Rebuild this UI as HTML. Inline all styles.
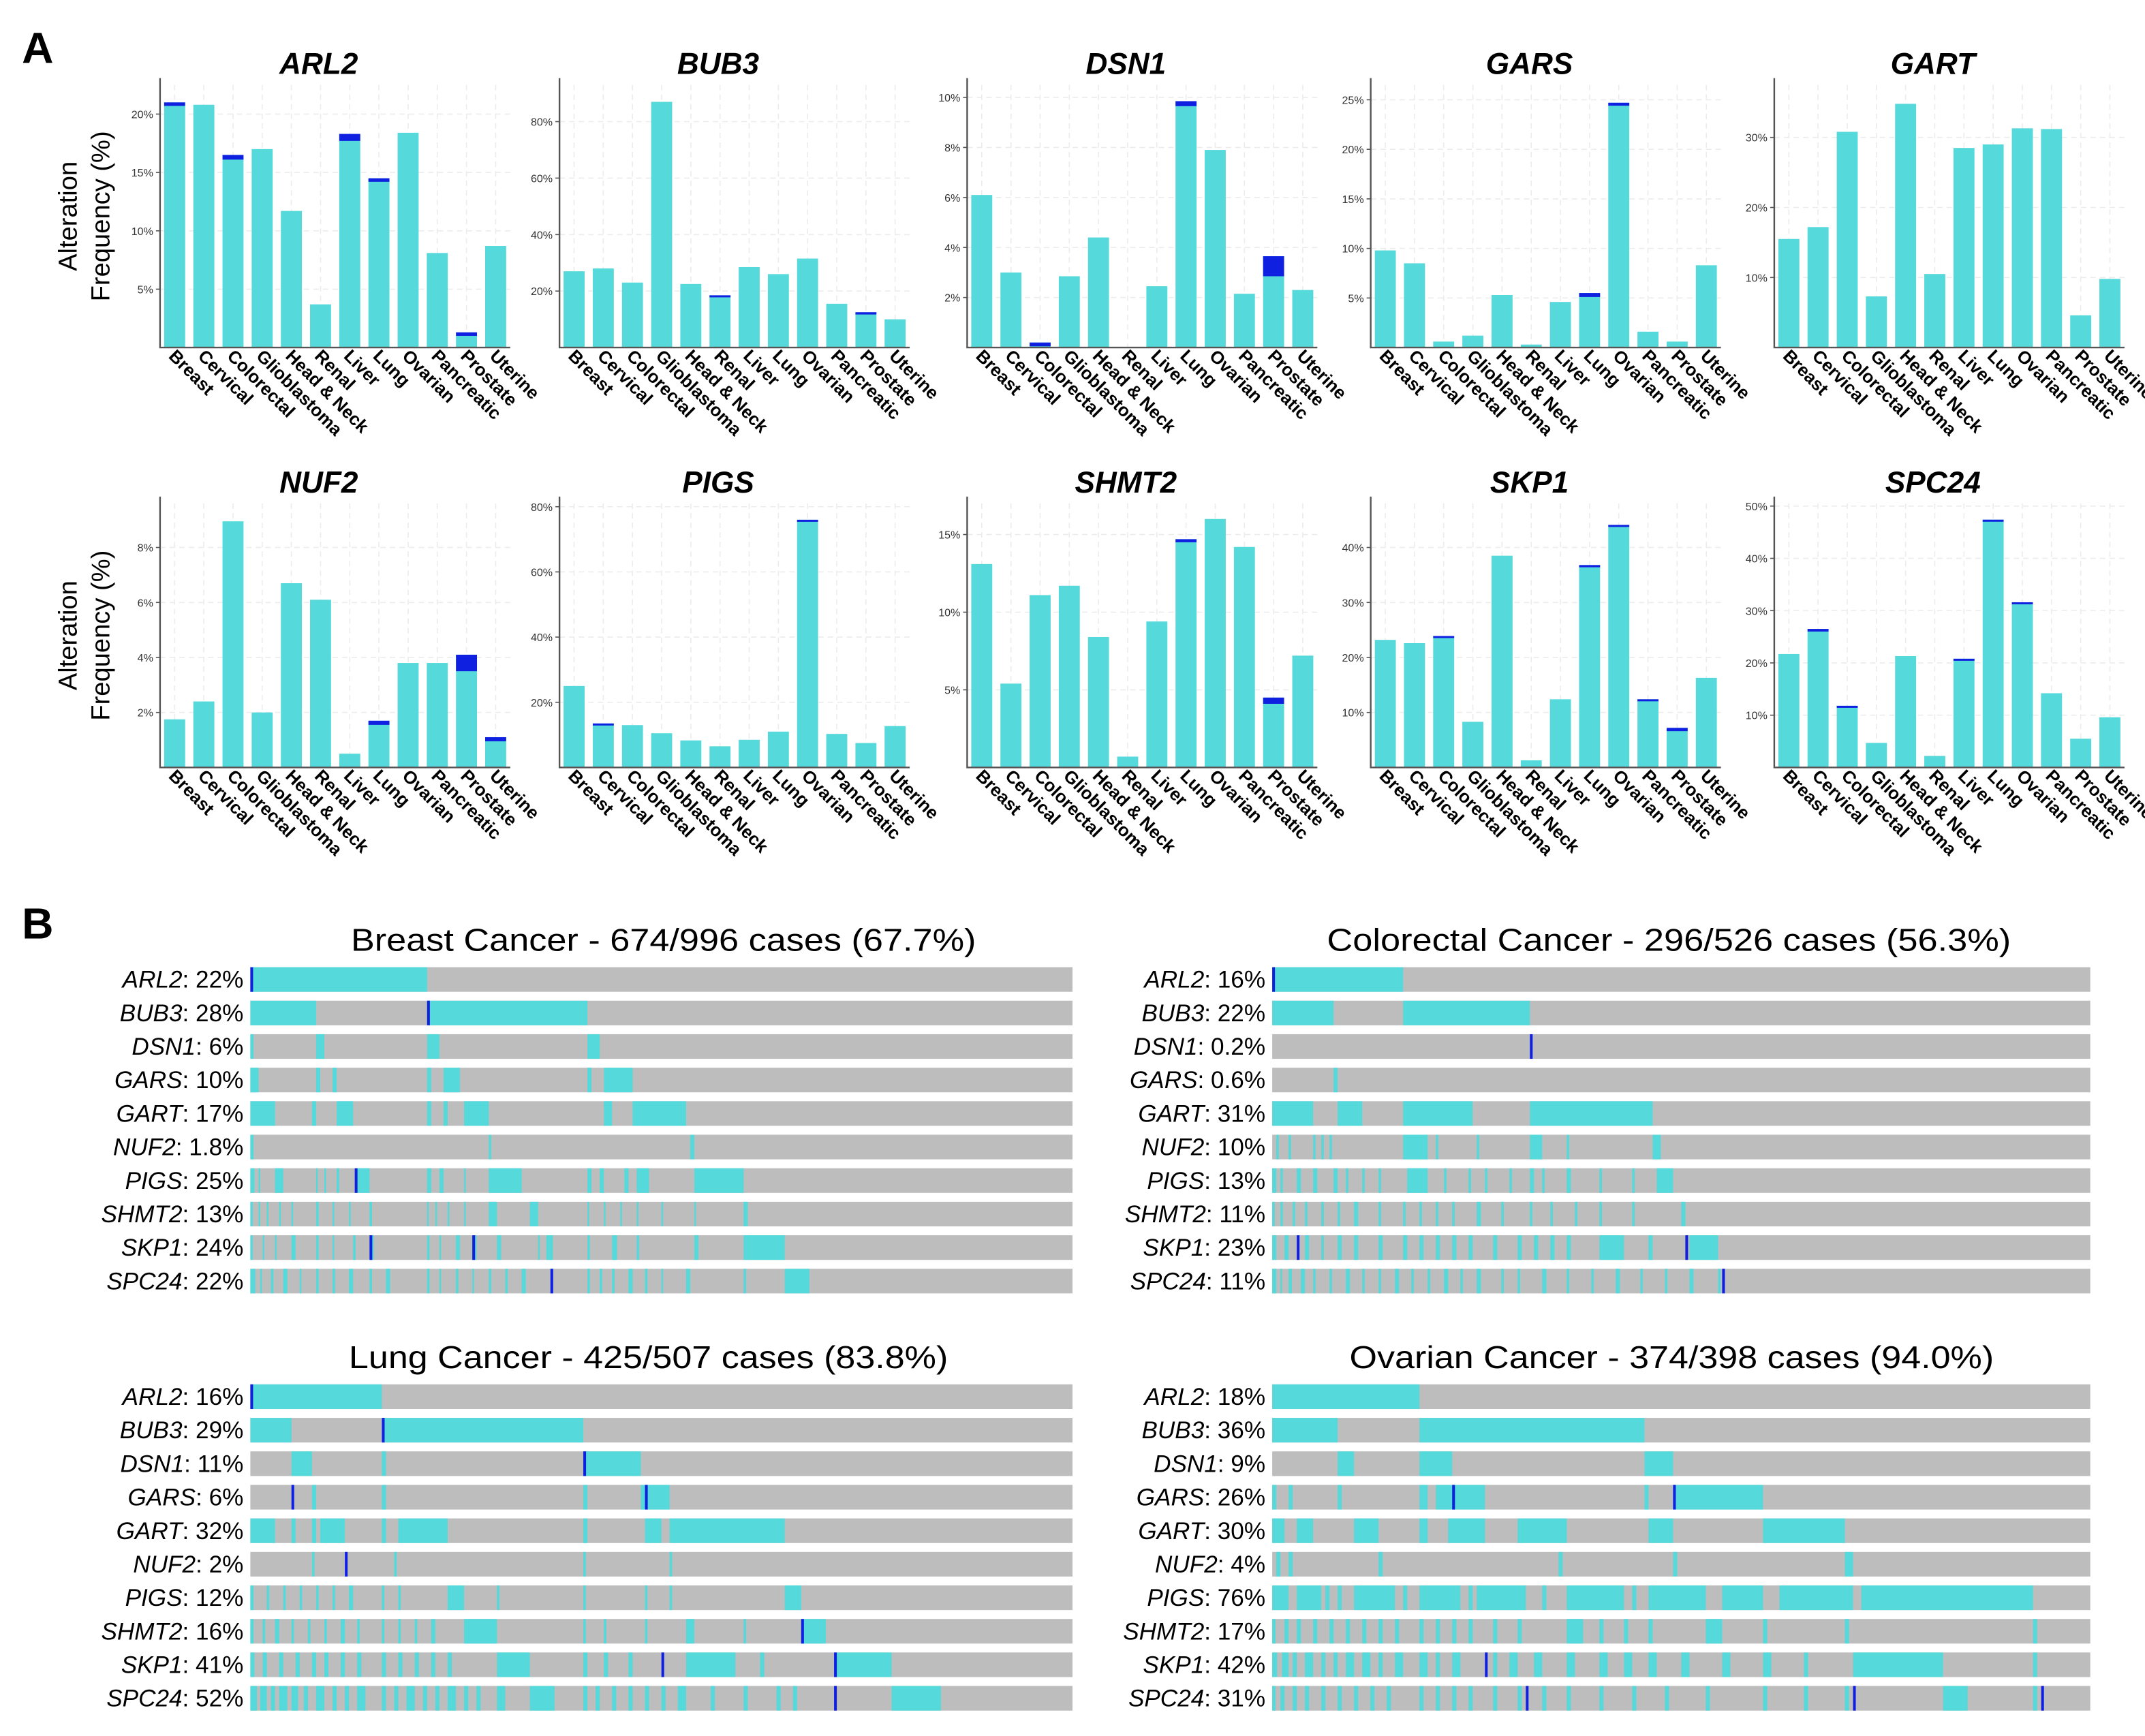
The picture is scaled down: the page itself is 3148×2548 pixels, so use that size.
<!DOCTYPE html>
<html><head><meta charset="utf-8"><style>
html,body{margin:0;padding:0;background:#fff}
svg{display:block;font-family:"Liberation Sans",sans-serif}
</style></head><body>
<svg id="fig" width="3148" height="2548" viewBox="0 0 1568 1269" xmlns="http://www.w3.org/2000/svg">
<rect width="1568" height="1269" fill="#fff"/>
<text x="16" y="46" font-size="32" font-weight="bold">A</text>
<text x="16" y="686" font-size="32" font-weight="bold">B</text>
<g id="bars"></g>
<g id="onco"></g>
</svg>
<script>
const categories=["Breast","Cervical","Colorectal","Glioblastoma","Head & Neck","Renal","Liver","Lung","Ovarian","Pancreatic","Prostate","Uterine"];
const genes=["ARL2","BUB3","DSN1","GARS","GART","NUF2","PIGS","SHMT2","SKP1","SPC24"];
const totARL2=[21,20.8,16.5,17,11.7,3.7,18.3,14.5,18.4,8.1,1.3,8.7];
const blueARL2=[0.3,0,0.4,0,0,0,0.6,0.3,0,0,0.3,0];
const totBUB3=[27,28,23,87,22.5,18.5,28.5,26,31.5,15.5,12.5,10];
const blueBUB3=[0,0,0,0,0,0.5,0,0,0,0,0.8,0];
const totDSN1=[6.1,3.0,0.2,2.85,4.4,0,2.45,9.85,7.9,2.15,3.65,2.3];
const blueDSN1=[0,0,0.15,0,0,0,0,0.2,0,0,0.8,0];
const totGARS=[9.8,8.5,0.6,1.2,5.3,0.3,4.6,5.5,24.7,1.6,0.6,8.3];
const blueGARS=[0,0,0,0,0,0,0,0.4,0.3,0,0,0];
const totGART=[15.5,17.2,30.8,7.3,34.8,10.5,28.5,29,31.3,31.2,4.6,9.8];
const blueGART=[0,0,0,0,0,0,0,0,0,0,0,0];
const totNUF2=[1.75,2.4,8.95,2.0,6.7,6.1,0.5,1.7,3.8,3.8,4.1,1.1];
const blueNUF2=[0,0,0,0,0,0,0,0.15,0,0,0.6,0.15];
const totPIGS=[25,13.5,13,10.5,8.3,6.5,8.5,11,76,10.3,7.5,12.7];
const bluePIGS=[0,0.5,0,0,0,0,0,0,0.3,0,0,0];
const totSHMT2=[13.1,5.4,11.1,11.7,8.4,0.7,9.4,14.7,16,14.2,4.5,7.2];
const blueSHMT2=[0,0,0,0,0,0,0,0.2,0,0,0.4,0];
const totSKP1=[23.2,22.6,23.9,8.3,38.5,1.3,12.4,36.8,44.1,12.4,7.2,16.3];
const blueSKP1=[0,0,0.2,0,0,0,0,0.4,0.3,0.3,0.6,0];
const totSPC24=[21.7,26.5,11.8,4.7,21.3,2.2,20.8,47.4,31.6,14.2,5.5,9.6];
const blueSPC24=[0,0.5,0.3,0,0,0,0.2,0.3,0.3,0,0,0];
const ticksARL2=[5,10,15,20], ticksBUB3=[20,40,60,80], ticksDSN1=[2,4,6,8,10], ticksGARS=[5,10,15,20,25], ticksGART=[10,20,30];
const ticksNUF2=[2,4,6,8], ticksPIGS=[20,40,60,80], ticksSHMT2=[5,10,15], ticksSKP1=[10,20,30,40], ticksSPC24=[10,20,30,40,50];
const ymaxes=[22.5,93,10.5,26.5,37.5,9.6,81,17,48,50.5];

const NS="http://www.w3.org/2000/svg";
function mk(tag,attrs,parent){const e=document.createElementNS(NS,tag);for(const k in attrs)e.setAttribute(k,attrs[k]);parent.appendChild(e);return e;}
const tots={ARL2:totARL2,BUB3:totBUB3,DSN1:totDSN1,GARS:totGARS,GART:totGART,NUF2:totNUF2,PIGS:totPIGS,SHMT2:totSHMT2,SKP1:totSKP1,SPC24:totSPC24};
const blues={ARL2:blueARL2,BUB3:blueBUB3,DSN1:blueDSN1,GARS:blueGARS,GART:blueGART,NUF2:blueNUF2,PIGS:bluePIGS,SHMT2:blueSHMT2,SKP1:blueSKP1,SPC24:blueSPC24};
const ticks={ARL2:ticksARL2,BUB3:ticksBUB3,DSN1:ticksDSN1,GARS:ticksGARS,GART:ticksGART,NUF2:ticksNUF2,PIGS:ticksPIGS,SHMT2:ticksSHMT2,SKP1:ticksSKP1,SPC24:ticksSPC24};
const axX=[117,409,707,1002,1297];
const barsG=document.getElementById('bars');
genes.forEach((g,gi)=>{
  const col=gi%5,row=Math.floor(gi/5);
  const x0=axX[col],yb=row?561:254,yt=row?368:62,w=256;
  const ymax=ymaxes[gi];
  const Y=v=>yb-(v/ymax)*(yb-yt);
  const band=w/12;const X=i=>x0+band*(i+0.5);
  const grp=mk('g',{},barsG);
  
  
  const t=mk('text',{x:x0+w/2-12,y:yt-8,'text-anchor':'middle','font-size':22,'font-weight':'bold','font-style':'italic'},grp);
  t.textContent=g;
  
  
  for(let i=0;i<12;i++){const l=mk('line',{x1:X(i),x2:X(i),y1:yt,y2:yb,stroke:'#ececec','stroke-dasharray':'4 3','stroke-width':0.8},grp);
    }
  ticks[g].forEach(v=>{
    const l=mk('line',{x1:x0,x2:x0+w,y1:Y(v),y2:Y(v),stroke:'#ececec','stroke-dasharray':'4 3','stroke-width':0.8},grp);
    
    const tk=mk('line',{x1:x0-3,x2:x0,y1:Y(v),y2:Y(v),stroke:'#555','stroke-width':0.8},grp);
    
    const tl=mk('text',{x:x0-5,y:Y(v)+3,'text-anchor':'end','font-size':8,fill:'#333'},grp);
    tl.textContent=v+'%';
    
  });
  tots[g].forEach((v,i)=>{
    const bw=band*0.72;
    const r=mk('rect',{x:X(i)-bw/2,y:Y(v),width:bw,height:yb-Y(v),fill:'#55d9da'},grp);
    
    
    const b=blues[g][i];
    if(b>0){const br=mk('rect',{x:X(i)-bw/2,y:Y(v),width:bw,height:Math.max(1.5,Y(v-b)-Y(v)),fill:'#1020e0'},grp);
      }
    const xl=mk('text',{x:0,y:0,'font-size':13,'font-weight':'bold',fill:'#000',transform:`translate(${X(i)-5},${yb+7}) rotate(45)`},grp);
    xl.textContent=categories[i];
    
  });
  const ax=mk('path',{d:`M${x0} ${yt-5} V${yb} H${x0+w}`,fill:'none',stroke:'#555','stroke-width':1.2},grp);
  
  if(col===0){
    const cy=(yt+yb)/2;
    const yl=mk('text',{'text-anchor':'middle','font-size':19,transform:`translate(56,${cy}) rotate(-90)`},grp);
    yl.textContent='Alteration';
    
    const yl2=mk('text',{'text-anchor':'middle','font-size':19,transform:`translate(80,${cy}) rotate(-90)`},grp);
    yl2.textContent='Frequency (%)';
    
  }
});

const oncoTitles=["Breast Cancer - 674/996 cases (67.7%)","Colorectal Cancer - 296/526 cases (56.3%)","Lung Cancer - 425/507 cases (83.8%)","Ovarian Cancer - 374/398 cases (94.0%)"];
const pctBreast=["22%","28%","6%","10%","17%","1.8%","25%","13%","24%","22%"];
const pctColorectal=["16%","22%","0.2%","0.6%","31%","10%","13%","11%","23%","11%"];
const pctLung=["16%","29%","11%","6%","32%","2%","12%","16%","41%","52%"];
const pctOvarian=["18%","36%","9%","26%","30%","4%","76%","17%","42%","31%"];
const segBreast=[
 [[0,.215]],
 [[0,.08],[.215,.41]],
 [[0,.004],[.08,.09],[.215,.23],[.41,.425]],
 [[0,.01],[.08,.085],[.1,.105],[.215,.22],[.235,.255],[.41,.415],[.43,.465]],
 [[0,.03],[.075,.08],[.105,.125],[.215,.22],[.235,.24],[.26,.29],[.43,.44],[.465,.53]],
 [[0,.004],[.29,.293],[.535,.54]],
 [[0,.005],[.01,.012],[.03,.04],[.08,.082],[.09,.092],[.105,.108],[.13,.145],[.215,.22],[.23,.235],[.26,.262],[.29,.33],[.41,.415],[.425,.43],[.455,.46],[.47,.485],[.54,.6]],
 [[0,.003],[.01,.012],[.02,.022],[.035,.037],[.05,.052],[.08,.083],[.1,.102],[.12,.122],[.145,.148],[.215,.217],[.225,.227],[.24,.242],[.26,.262],[.29,.3],[.34,.35],[.41,.412],[.43,.432],[.45,.452],[.47,.472],[.5,.502],[.54,.542],[.6,.605]],
 [[0,.003],[.015,.017],[.03,.032],[.05,.055],[.08,.083],[.1,.102],[.125,.128],[.145,.15],[.215,.218],[.23,.232],[.25,.255],[.27,.275],[.3,.305],[.35,.352],[.36,.368],[.41,.413],[.44,.446],[.47,.473],[.54,.545],[.6,.65]],
 [[0,.006],[.012,.014],[.025,.028],[.04,.045],[.06,.062],[.08,.083],[.1,.103],[.12,.125],[.145,.148],[.165,.17],[.215,.218],[.23,.232],[.25,.253],[.27,.272],[.29,.293],[.31,.313],[.33,.335],[.365,.368],[.41,.413],[.425,.428],[.44,.443],[.46,.465],[.48,.483],[.5,.502],[.53,.535],[.6,.603],[.65,.68]]
];
const blueBreast=[[0],[.215],[],[],[],[],[.127],[],[.145,.27],[.365]];
const segColorectal=[
 [[0,.16]],
 [[0,.075],[.16,.315]],
 [],
 [[.075,.08]],
 [[0,.05],[.08,.11],[.16,.245],[.315,.465]],
 [[.005,.008],[.02,.023],[.05,.053],[.06,.063],[.07,.073],[.16,.19],[.2,.203],[.25,.253],[.315,.33],[.36,.363],[.465,.475]],
 [[0,.005],[.01,.013],[.03,.035],[.05,.055],[.075,.08],[.09,.093],[.11,.113],[.13,.133],[.165,.19],[.21,.213],[.24,.243],[.26,.263],[.29,.293],[.315,.32],[.33,.333],[.36,.365],[.4,.403],[.44,.443],[.47,.49]],
 [[0,.003],[.01,.013],[.025,.028],[.04,.043],[.06,.063],[.08,.083],[.1,.105],[.13,.133],[.16,.163],[.18,.183],[.2,.203],[.22,.223],[.25,.255],[.28,.283],[.315,.318],[.34,.343],[.37,.373],[.4,.403],[.44,.443],[.5,.505]],
 [[0,.005],[.015,.02],[.04,.045],[.06,.063],[.08,.085],[.1,.105],[.13,.135],[.16,.165],[.18,.185],[.2,.205],[.22,.225],[.24,.245],[.27,.275],[.3,.305],[.32,.325],[.34,.345],[.36,.365],[.4,.43],[.46,.465],[.51,.545]],
 [[0,.005],[.01,.012],[.02,.024],[.035,.04],[.05,.053],[.07,.073],[.09,.095],[.11,.113],[.13,.133],[.15,.155],[.17,.173],[.19,.193],[.21,.215],[.23,.233],[.25,.255],[.28,.283],[.3,.303],[.33,.335],[.36,.363],[.39,.393],[.42,.425],[.45,.453],[.48,.483],[.51,.515],[.545,.548]]
];
const blueColorectal=[[0],[],[.315],[],[],[],[],[],[.03,.505],[.55]];
const segLung=[
 [[0,.16]],
 [[0,.05],[.16,.405]],
 [[.05,.075],[.16,.165],[.405,.475]],
 [[.075,.08],[.16,.165],[.405,.41],[.475,.48],[.48,.51]],
 [[0,.03],[.05,.055],[.075,.08],[.085,.115],[.16,.165],[.18,.24],[.405,.41],[.48,.5],[.51,.65]],
 [[.075,.078],[.175,.178],[.405,.408],[.51,.513]],
 [[0,.004],[.02,.023],[.04,.043],[.06,.063],[.08,.083],[.1,.103],[.12,.125],[.16,.163],[.18,.183],[.24,.26],[.3,.303],[.405,.408],[.48,.483],[.51,.513],[.65,.67]],
 [[0,.004],[.015,.018],[.03,.035],[.05,.053],[.07,.073],[.09,.093],[.11,.115],[.13,.133],[.16,.163],[.18,.183],[.2,.203],[.22,.225],[.26,.3],[.405,.408],[.43,.433],[.48,.483],[.53,.54],[.6,.603],[.67,.7]],
 [[0,.005],[.015,.02],[.035,.04],[.055,.06],[.075,.08],[.09,.095],[.11,.115],[.13,.135],[.16,.165],[.18,.185],[.2,.205],[.22,.225],[.24,.245],[.3,.34],[.405,.41],[.43,.435],[.46,.465],[.53,.59],[.62,.625],[.71,.78]],
 [[0,.008],[.012,.02],[.025,.03],[.035,.045],[.05,.058],[.065,.07],[.08,.09],[.1,.105],[.115,.12],[.13,.14],[.16,.165],[.175,.18],[.19,.2],[.21,.215],[.225,.23],[.24,.25],[.26,.265],[.275,.28],[.3,.31],[.34,.37],[.405,.41],[.42,.425],[.44,.445],[.46,.465],[.48,.485],[.5,.505],[.52,.53],[.56,.565],[.6,.605],[.64,.645],[.66,.665],[.78,.84]]
];
const blueLung=[[0],[.16],[.405],[.05,.48],[],[.115],[],[.67],[.5,.71],[.71]];
const segOvarian=[
 [[0,.18]],
 [[0,.08],[.18,.455]],
 [[.08,.1],[.18,.22],[.455,.49]],
 [[0,.005],[.02,.025],[.08,.085],[.18,.19],[.2,.26],[.455,.46],[.49,.6]],
 [[0,.015],[.03,.05],[.1,.13],[.18,.19],[.215,.26],[.3,.36],[.46,.49],[.6,.7]],
 [[.005,.01],[.02,.025],[.13,.135],[.35,.355],[.49,.495],[.7,.71]],
 [[0,.02],[.03,.06],[.065,.07],[.08,.085],[.1,.15],[.16,.165],[.18,.23],[.24,.245],[.25,.31],[.33,.335],[.36,.43],[.44,.445],[.46,.53],[.55,.6],[.62,.71],[.72,.93]],
 [[0,.004],[.015,.02],[.03,.035],[.05,.055],[.07,.075],[.09,.095],[.11,.115],[.13,.135],[.15,.155],[.18,.185],[.2,.205],[.22,.225],[.24,.245],[.27,.275],[.3,.305],[.36,.38],[.4,.405],[.43,.435],[.46,.465],[.53,.55],[.6,.605],[.7,.705],[.93,.935]],
 [[0,.006],[.012,.02],[.025,.03],[.04,.05],[.06,.065],[.075,.08],[.09,.1],[.11,.12],[.13,.135],[.15,.16],[.18,.19],[.2,.205],[.22,.23],[.27,.275],[.29,.3],[.32,.33],[.36,.37],[.4,.41],[.43,.44],[.46,.47],[.5,.51],[.55,.56],[.6,.61],[.65,.655],[.71,.82],[.93,.935]],
 [[0,.004],[.01,.015],[.025,.03],[.04,.045],[.06,.065],[.08,.085],[.1,.105],[.12,.125],[.14,.145],[.18,.185],[.2,.205],[.22,.225],[.24,.245],[.27,.275],[.3,.305],[.33,.335],[.36,.365],[.4,.405],[.44,.445],[.48,.485],[.53,.535],[.6,.605],[.65,.655],[.7,.705],[.82,.85],[.93,.935]]
];
const blueOvarian=[[],[],[],[.22,.49],[],[],[],[],[.26],[.31,.71,.94]];

const panels=[{x:183,w:601,y:716,pct:pctBreast,seg:segBreast,blue:blueBreast,name:'breast',tx:485,tw:457},
 {x:930,w:598,y:716,pct:pctColorectal,seg:segColorectal,blue:blueColorectal,name:'colorectal',tx:1220,tw:500},
 {x:183,w:601,y:1021,pct:pctLung,seg:segLung,blue:blueLung,name:'lung',tx:474,tw:438},
 {x:930,w:598,y:1021,pct:pctOvarian,seg:segOvarian,blue:blueOvarian,name:'ovarian',tx:1222,tw:471}];
const oncoG=document.getElementById('onco');
panels.forEach((p,pi)=>{
  const grp=mk('g',{},oncoG);
  
  
  const t=mk('text',{x:p.tx,y:p.y-21,'text-anchor':'middle','font-size':23,textLength:p.tw,lengthAdjust:'spacingAndGlyphs'},grp);
  t.textContent=oncoTitles[pi];
  
  const X=f=>p.x+f*p.w;
  genes.forEach((g,gi)=>{
    const cy=p.y+gi*24.5;
    const bg=mk('rect',{x:p.x,y:cy-9,width:p.w,height:18,fill:'#bdbdbd'},grp);
    
    p.seg[gi].forEach(s=>{
      const r=mk('rect',{x:X(s[0]),y:cy-9,width:Math.max(1.2,X(s[1])-X(s[0])),height:18,fill:'#55d9da'},grp);
      
    });
    p.blue[gi].forEach(b=>{
      const r=mk('rect',{x:X(b),y:cy-9,width:2,height:18,fill:'#1020e0'},grp);
      
    });
    const lab=mk('text',{x:p.x-5,y:cy+6,'text-anchor':'end','font-size':17.5},grp);
    const ts=mk('tspan',{'font-style':'italic'},lab);ts.textContent=g;
    const ts2=mk('tspan',{},lab);ts2.textContent=': '+p.pct[gi];
    
  });
});
</script>
</body></html>
